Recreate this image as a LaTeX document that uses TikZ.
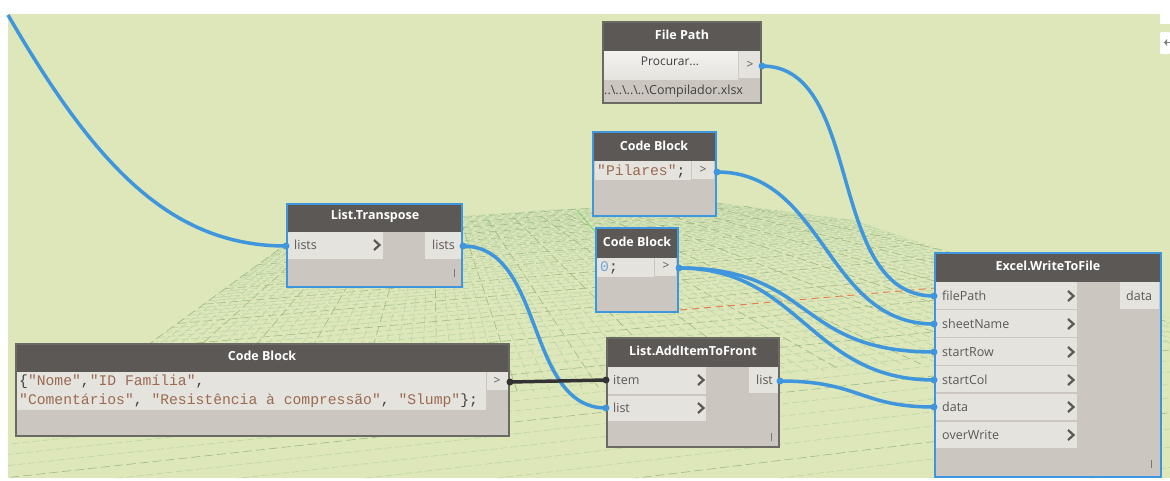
\documentclass[tikz,border=0pt]{standalone}
\usepackage{fontspec}
\setmainfont{Open Sans}
\newfontfamily\codefont{Liberation Mono}
\usetikzlibrary{calc}
\definecolor{bggreen}{HTML}{DDE7B9}
\definecolor{gridlight}{HTML}{BFD6AA}
\definecolor{gridmajor}{HTML}{9DB986}
\definecolor{bodygray}{HTML}{CBC7C0}
\definecolor{headgray}{HTML}{5C5855}
\definecolor{rowgray}{HTML}{E5E3DE}
\definecolor{wireblue}{HTML}{3F96DC}
\definecolor{edgegray}{HTML}{6B6A62}
\definecolor{labelgray}{HTML}{5A5856}
\definecolor{strbrown}{HTML}{9A6A52}
\definecolor{numblue}{HTML}{6FA8DC}
\definecolor{wiredark}{HTML}{333333}
\definecolor{redaxis}{HTML}{E8794A}
\tikzset{
  bodyplain/.style={draw=edgegray,fill=bodygray,line width=1.2pt,inner sep=0pt,outer sep=0pt},
  bodysel/.style={draw=wireblue,fill=bodygray,line width=2.4pt,inner sep=0pt,outer sep=0pt},
  headbar/.style={fill=headgray,inner sep=0pt,outer sep=0pt},
  rowbar/.style={fill=rowgray,inner sep=0pt,outer sep=0pt},
  btnbar/.style={top color=rowgray!45!white,bottom color=rowgray,inner sep=0pt,outer sep=0pt},
  titletext/.style={text=white,font=\fontsize{12.5}{14}\selectfont\bfseries,inner sep=0pt},
  porttext/.style={text=labelgray,font=\fontsize{12.5}{14}\selectfont,inner sep=0pt,anchor=west},
  gttext/.style={text=labelgray,font=\fontsize{12}{14}\selectfont,inner sep=0pt},
  codetext/.style={font=\codefont\fontsize{14.7}{19}\selectfont,inner sep=0pt,anchor=west},
  wire/.style={draw=wireblue,line width=3.5pt},
  wirek/.style={draw=wiredark,line width=3.5pt},
  dotblue/.style={circle,fill=wireblue,minimum size=7pt,inner sep=0pt},
  dotdark/.style={circle,fill=wiredark,minimum size=7pt,inner sep=0pt},
  chev/.style={draw=labelgray,line width=2.2pt,line cap=butt,line join=miter},
  grip/.style={draw=labelgray!80,line width=0.9pt},
}
% name, style, x1, y1, x2, y2
\newcommand{\boxat}[6]{%
  \pgfmathsetmacro{\bw}{#5-#3}\pgfmathsetmacro{\bh}{#6-#4}%
  \node[#2,anchor=north west,minimum width=\bw pt,minimum height=\bh pt] (#1) at (#3,#4) {};}
\newcommand{\chevat}[2]{\draw[chev] (#1-4,#2-5) -- (#1+1.5,#2) -- (#1-4,#2+5);}
\newcommand{\gripat}[2]{\draw[grip] (#1,#2-4) -- (#1,#2+4);}
\begin{document}
\begin{tikzpicture}[x=1pt,y=-1pt]
\useasboundingbox (0,0) rectangle (1170,480);
\fill[white] (0,0) rectangle (1170,480);
\fill[bggreen] (8,14) rectangle (1170,478);
% ground grid
\begin{scope}
\clip (720,203) -- (466,213) -- (300,232) -- (8,446) -- (8,478) -- (1170,478) -- (1170,318) -- (933,247) -- (853,220) -- cycle;
\foreach \i in {-6,...,76}{
  \pgfmathsetmacro{\f}{1/(1-0.012*\i)}
  \pgfmathsetmacro{\qx}{433-133*\f}
  \pgfmathsetmacro{\qy}{137+97*\f}
  \pgfmathsetmacro{\ex}{\qx+0.3*(6000-\qx)}
  \pgfmathsetmacro{\ey}{\qy+0.3*(-180-\qy)}
  \pgfmathtruncatemacro{\m}{mod(\i+60,5)}
  \ifnum\m=0
    \draw[gridmajor,line width=0.6pt,dash pattern=on 9pt off 4pt] (\qx,\qy) -- (\ex,\ey);
  \else
    \draw[gridlight,line width=0.7pt,dash pattern=on 7pt off 3pt] (\qx,\qy) -- (\ex,\ey);
  \fi
}
\foreach \j in {-4,...,110}{
  \pgfmathsetmacro{\px}{300+5.375*\j}
  \pgfmathsetmacro{\py}{234-0.3875*\j}
  \pgfmathsetmacro{\ex}{433+3*(\px-433)}
  \pgfmathsetmacro{\ey}{137+3*(\py-137)}
  \pgfmathtruncatemacro{\m}{mod(\j+60,5)}
  \ifnum\m=0
    \draw[gridmajor,line width=0.6pt,dash pattern=on 9pt off 4pt] (\px,\py) -- (\ex,\ey);
  \else
    \draw[gridlight,line width=0.7pt,dash pattern=on 7pt off 3pt] (\px,\py) -- (\ex,\ey);
  \fi
}
\end{scope}
\draw[gridmajor!60!green,line width=0.5pt] (577,210) -- (596,233);
\draw[redaxis,line width=0.9pt,dash pattern=on 7pt off 5pt] (680,310) -- (935,288);
% right-edge widgets
\fill[white] (1160,14) -- (1170,14) -- (1170,24) -- (1160,24) -- cycle;
\fill[white,rounded corners=1pt] (1160,32) rectangle (1170,54);
\draw[gray,line width=1.2pt] (1165,42.5) -- (1170,42.5);
\fill[gray] (1164,42.5) -- (1167,39) -- (1167,46) -- cycle;
% File Path
\boxat{fpbody}{bodyplain}{603}{22}{761}{103}
\boxat{fphead}{headbar}{604}{23}{760}{51}
\node[titletext] (fptitle) at (682,35) {File Path};
\boxat{fpbtn}{btnbar}{604}{51}{738}{79}
\node[gttext,text=black!75] (fpbtntext) at (670,61) {Procurar...};
\boxat{fpout}{rowbar}{739}{51}{760}{78}
\node[gttext] (fpgt) at (750,65) {>};
\node[porttext,text=black!75] (fppath) at (604,91) {..\textbackslash..\textbackslash..\textbackslash..\textbackslash Compilador.xlsx};
% Code block Pilares
\boxat{pibody}{bodysel}{593}{132}{716}{216}
\boxat{pihead}{headbar}{594}{133}{715}{161}
\node[titletext] (pititle) at (654,146) {Code Block};
\boxat{pirow}{rowbar}{595}{161}{691}{180}
\boxat{piout}{rowbar}{692}{161}{714}{179}
\node[codetext,text=strbrown] (pitext) at (597,171) {"Pilares"\textcolor{black!75}{;}};
\node[gttext] (pigt) at (703,170) {>};
% Code block 0
\boxat{zebody}{bodysel}{596}{228}{678}{312}
\boxat{zehead}{headbar}{597}{229}{677}{258}
\node[titletext] (zetitle) at (637,242) {Code Block};
\boxat{zerow}{rowbar}{597}{258}{654}{277}
\boxat{zeout}{rowbar}{655}{258}{676}{276}
\node[codetext,text=numblue] (zetext) at (600,268) {0\textcolor{black!75}{;}};
\node[gttext] (zegt) at (666,266) {>};
% List.Transpose
\boxat{ltbody}{bodysel}{287}{204}{462}{287}
\boxat{lthead}{headbar}{288}{205}{461}{232}
\node[titletext] (lttitle) at (375,216) {List.Transpose};
\boxat{ltin}{rowbar}{288}{232}{383}{259}
\boxat{ltout}{rowbar}{425}{232}{461}{259}
\node[porttext] (ltinlab) at (294,245) {lists};
\node[porttext] (ltoutlab) at (432,245) {lists};
\chevat{378}{245}
\gripat{454}{273}
% big Code Block
\boxat{cbbody}{bodyplain}{16}{344}{509}{436}
\boxat{cbhead}{headbar}{17}{345}{508}{372}
\node[titletext] (cbtitle) at (262,356) {Code Block};
\boxat{cbrow}{rowbar}{17}{372}{486}{410}
\boxat{cbout}{rowbar}{487}{372}{508}{390}
\node[codetext,text=strbrown] (cbline1) at (19,382) {\textcolor{black!75}{\{}"Nome"\textcolor{black!75}{,}"ID Família"\textcolor{black!75}{,}};
\node[codetext,text=strbrown] (cbline2) at (19,401) {"Comentários"\textcolor{black!75}{,} "Resistência à compressão"\textcolor{black!75}{,} "Slump"\textcolor{black!75}{\};}};
\node[gttext] (cbgt) at (497,381) {>};
% List.AddItemToFront
\boxat{libody}{bodyplain}{607}{338}{779}{447}
\boxat{lihead}{headbar}{608}{339}{778}{367}
\node[titletext] (lititle) at (693,351) {List.AddItemToFront};
\boxat{liitem}{rowbar}{608}{367}{706}{394}
\boxat{lilist}{rowbar}{608}{396}{706}{421}
\boxat{liout}{rowbar}{749}{367}{778}{393}
\node[porttext] (liitemlab) at (613,380) {item};
\node[porttext] (lilistlab) at (613,408) {list};
\node[porttext] (lioutlab) at (756,380) {list};
\chevat{702}{380}
\chevat{702}{408}
\gripat{771}{437}
% Excel.WriteToFile
\boxat{exbody}{bodysel}{935}{253}{1161}{477}
\boxat{exhead}{headbar}{936}{254}{1160}{282}
\node[titletext] (extitle) at (1048,266) {Excel.WriteToFile};
\boxat{exr1}{rowbar}{936}{282}{1077}{309}
\boxat{exr2}{rowbar}{936}{310}{1077}{337}
\boxat{exr3}{rowbar}{936}{338}{1077}{365}
\boxat{exr4}{rowbar}{936}{366}{1077}{392}
\boxat{exr5}{rowbar}{936}{394}{1077}{420}
\boxat{exr6}{rowbar}{936}{422}{1077}{448}
\boxat{exout}{rowbar}{1120}{282}{1159}{309}
\node[porttext] (exl1) at (942,296) {filePath};
\node[porttext] (exl2) at (942,324) {sheetName};
\node[porttext] (exl3) at (942,352) {startRow};
\node[porttext] (exl4) at (942,380) {startCol};
\node[porttext] (exl5) at (942,407) {data};
\node[porttext] (exl6) at (942,435) {overWrite};
\node[porttext] (exoutlab) at (1126,296) {data};
\chevat{1072}{296}
\chevat{1072}{324}
\chevat{1072}{352}
\chevat{1072}{380}
\chevat{1072}{407}
\chevat{1072}{435}
\gripat{1151}{464}
% port dots
\node[dotblue] (pfp) at (762,66) {};
\node[dotblue] (ppi) at (717,172) {};
\node[dotblue] (pze) at (679,268) {};
\node[dotblue] (ptin) at (286,246) {};
\node[dotblue] (ptout) at (463,246) {};
\node[dotdark] (pcb) at (510,382) {};
\node[dotdark] (piitem) at (606,380) {};
\node[dotblue] (pilist) at (606,408) {};
\node[dotblue] (pioutdot) at (780,381) {};
\node[dotblue] (pe1) at (934,296) {};
\node[dotblue] (pe2) at (934,324) {};
\node[dotblue] (pe3) at (934,352) {};
\node[dotblue] (pe4) at (934,380) {};
\node[dotblue] (pe5) at (934,407) {};
\coordinate (freeend) at (8,15);
% connectors
\draw[wire] (freeend) .. controls (95,165) and (170,246) .. (ptin.center);
\draw[wire] (ptout.center) .. controls (545,246) and (525,408) .. (pilist.center);
\draw[wirek] (pcb.center) -- (piitem.center);
\draw[wire] (pioutdot.center) .. controls (860,381) and (860,407) .. (pe5.center);
\draw[wire] (pfp.center) .. controls (865,66) and (825,296) .. (pe1.center);
\draw[wire] (ppi.center) .. controls (825,172) and (825,324) .. (pe2.center);
\draw[wire] (pze.center) .. controls (815,268) and (795,352) .. (pe3.center);
\draw[wire] (pze.center) .. controls (800,268) and (810,380) .. (pe4.center);
\end{tikzpicture}
\end{document}
